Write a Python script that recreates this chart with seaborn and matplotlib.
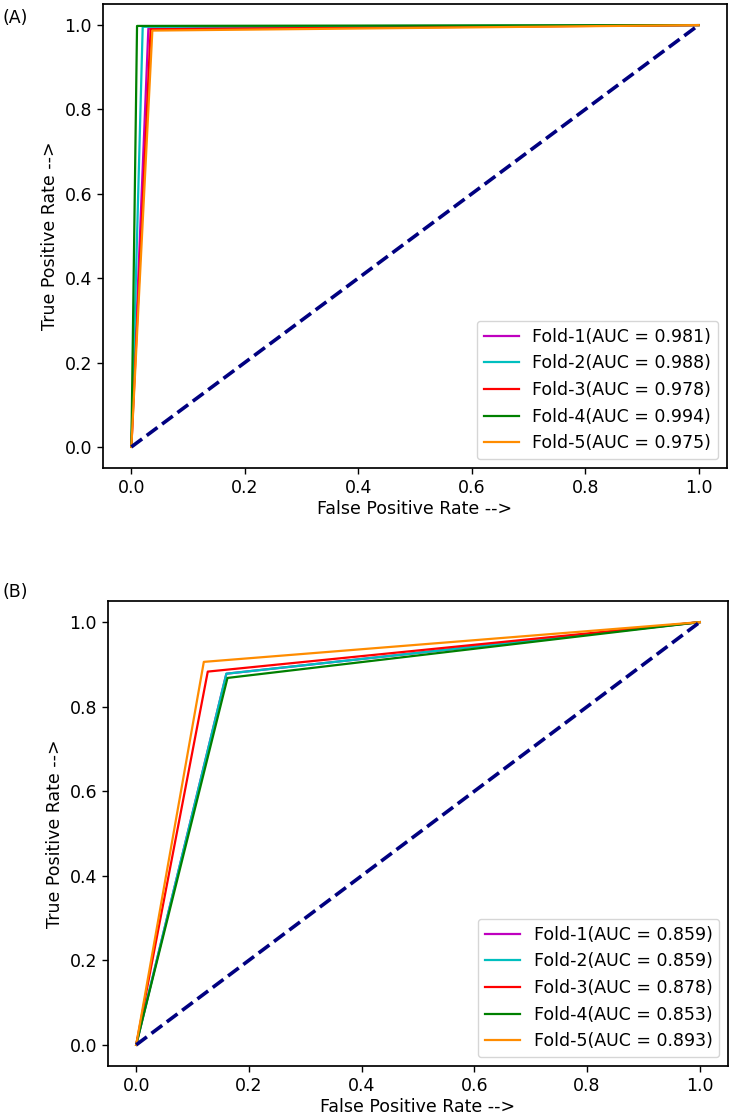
import pandas as pd
import seaborn as sns
import matplotlib
matplotlib.use("Agg")
import matplotlib.pyplot as plt

folds = ["Fold-1", "Fold-2", "Fold-3", "Fold-4", "Fold-5"]
colors = ["m", "c", "red", "green", "darkorange"]

# panel A : one threshold point per fold (0,0) -> (fpr,tpr) -> (1,1)
auc_a = [0.981, 0.988, 0.978, 0.994, 0.975]
fpr_a = [0.030, 0.020, 0.034, 0.010, 0.037]
tpr_a = [0.992, 0.996, 0.990, 0.998, 0.987]

# panel B
auc_b = [0.859, 0.859, 0.878, 0.853, 0.893]
fpr_b = [0.160, 0.160, 0.127, 0.162, 0.120]
tpr_b = [0.878, 0.878, 0.883, 0.868, 0.906]


def roc_frame(fpr, tpr, auc):
    rows = []
    for name, f, t, a in zip(folds, fpr, tpr, auc):
        lab = f"{name}(AUC = {a:.3f})"
        for i, (x, y) in enumerate([(0, 0), (f, t), (1, 1)]):
            rows.append({"fpr": x, "tpr": y, "fold": lab, "step": i})
    return pd.DataFrame(rows)


plt.rcParams.update({
    "font.family": ["DejaVu Sans"],
    "font.size": 12.5,
    "axes.linewidth": 1.25,
    "xtick.major.size": 4.4,
    "ytick.major.size": 4.4,
    "xtick.major.width": 1.0,
    "ytick.major.width": 1.0,
    "legend.handlelength": 2.0,
})

fig = plt.figure(figsize=(7.35, 11.18), dpi=100)
ax_a = fig.add_axes([103 / 735, 1 - 468 / 1118, 624 / 735, 464 / 1118])
ax_b = fig.add_axes([108 / 735, 1 - 1066 / 1118, 620 / 735, 465 / 1118])

for ax, (fpr, tpr, auc), tag, ty in [
    (ax_a, (fpr_a, tpr_a, auc_a), "(A)", 18),
    (ax_b, (fpr_b, tpr_b, auc_b), "(B)", 592),
]:
    df = roc_frame(fpr, tpr, auc)
    labs = list(df["fold"].unique())
    sns.lineplot(data=df, x="fpr", y="tpr", hue="fold", units="fold",
                 estimator=None, sort=False, palette=dict(zip(labs, colors)),
                 lw=1.6, ax=ax)
    ax.plot([0, 1], [0, 1], color="navy", lw=2.6, linestyle="--")
    ax.set_xlabel("False Positive Rate -->", labelpad=2)
    ax.set_ylabel("True Positive Rate -->")
    ax.set_xticks([0, 0.2, 0.4, 0.6, 0.8, 1.0])
    ax.set_yticks([0, 0.2, 0.4, 0.6, 0.8, 1.0])
    ax.set_xlim(-0.05, 1.05)
    ax.set_ylim(-0.05, 1.05)
    sns.move_legend(ax, "lower right", title=None, fontsize=12.5)
    fig.text(2 / 735, 1 - ty / 1118, tag, fontsize=12.5, va="center", ha="left")

plt.savefig("out.png", dpi=100)
